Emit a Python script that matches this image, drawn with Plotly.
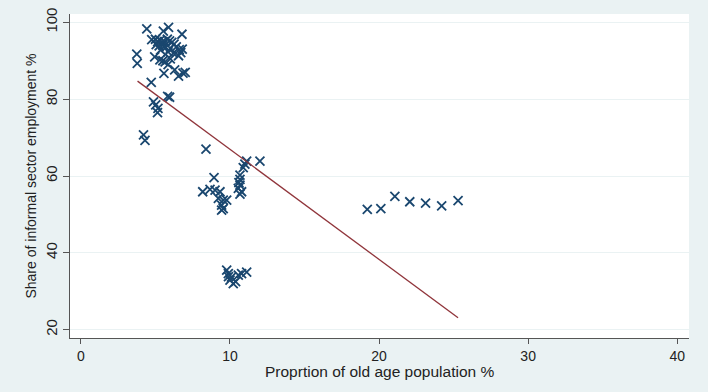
import plotly.graph_objects as go

# Scatter data: proportion of old age population (%) vs share of informal employment (%)
old_age = [
    4.42, 5.88, 5.53, 6.78, 4.75, 5.00, 5.15, 5.30, 5.45, 5.60, 5.80, 5.95, 6.10, 6.25,
    5.05, 5.25, 5.50, 5.70, 6.00, 6.40, 6.60, 6.80, 5.35, 5.85, 6.20, 6.70, 3.75, 3.78,
    4.95, 6.55, 5.30, 5.50, 5.65, 6.00, 5.85, 6.29, 5.57, 6.55, 6.85, 7.00, 4.72, 5.82,
    5.95, 4.87, 5.02, 5.17, 5.14, 4.20, 4.30,
    8.39, 12.01, 11.12, 11.00, 10.89, 8.93, 10.67, 10.67, 10.60, 10.67, 10.56, 10.78,
    10.67, 8.17, 8.66, 9.00, 9.33, 9.22, 9.55, 9.78, 9.44, 9.44, 9.55,
    9.78, 9.89, 10.00, 10.22, 10.38, 10.56, 10.78, 11.12, 10.10, 9.90,
    19.21, 20.12, 21.06, 22.06, 23.12, 24.20, 25.30,
]
informal = [
    98.3, 98.7, 97.7, 96.9, 95.5, 95.6, 95.0, 95.3, 94.9, 95.0, 95.6, 95.2, 94.8, 94.3,
    94.2, 93.9, 94.0, 93.5, 93.2, 93.6, 92.9, 93.0, 92.8, 92.3, 92.0, 92.1, 91.7, 89.3,
    91.0, 91.3, 90.2, 90.0, 89.7, 90.5, 89.0, 87.6, 86.7, 86.0, 86.8, 87.0, 84.4, 80.7,
    80.5, 79.3, 78.5, 77.6, 76.5, 70.7, 69.3,
    67.0, 63.9, 63.9, 63.1, 62.2, 59.6, 60.2, 59.1, 58.3, 57.6, 56.8, 55.9,
    55.3, 55.9, 56.5, 56.3, 55.9, 54.2, 53.7, 53.7, 52.4, 51.1, 51.5,
    35.5, 34.6, 32.9, 32.0, 32.5, 34.2, 34.6, 35.0, 33.7, 33.8,
    51.3, 51.5, 54.7, 53.3, 52.95, 52.2, 53.6,
]

# Linear fit line (endpoints)
fit_x = [3.8, 25.3]
fit_y = [84.7, 23.1]

x_ticks = [0, 10, 20, 30, 40]
y_ticks = [20, 40, 60, 80, 100]

x_title = "Proprtion of old age population %"
y_title = "Share of informal sector employment %"

BG = "#EAF2F3"
NAVY = "#1a476f"
MAROON = "#90353b"
FONT = "Liberation Sans, Arial, sans-serif"

fig = go.Figure()
fig.add_trace(go.Scatter(
    x=old_age, y=informal, mode="markers",
    marker=dict(symbol="x-thin-open", size=9, color=NAVY,
                line=dict(color=NAVY, width=1.8)),
    showlegend=False, hoverinfo="skip",
))
fig.add_trace(go.Scatter(
    x=fit_x, y=fit_y, mode="lines",
    line=dict(color=MAROON, width=1.3),
    showlegend=False, hoverinfo="skip",
))

fig.update_layout(
    width=708, height=392,
    margin=dict(l=70, r=19, t=14, b=54),
    paper_bgcolor=BG, plot_bgcolor="white",
    font=dict(family=FONT, color="#222222", size=13),
    xaxis=dict(
        range=[-0.73, 40.79], tickvals=x_ticks, ticks="outside", ticklen=5,
        tickcolor="#555555", showgrid=False, zeroline=False, automargin=False,
        showline=True, linecolor="#555555", linewidth=1.2,
        tickfont=dict(size=14),
    ),
    yaxis=dict(
        range=[17.83, 102.17], tickvals=y_ticks, ticks="outside", ticklen=6,
        tickcolor="#555555", tickangle=-90, showgrid=True, gridcolor=BG, gridwidth=1,
        zeroline=False, showline=True, linecolor="#555555", linewidth=1.2, automargin=False,
        tickfont=dict(size=15), title=dict(text=y_title, font=dict(size=14), standoff=3),
    ),
    annotations=[dict(
        text=x_title, xref="paper", yref="paper", x=0.5, y=0,
        xanchor="center", yanchor="middle", yshift=-33, showarrow=False,
        borderpad=0,
        font=dict(size=15.5, family=FONT, color="#222222"),
    )],
)

fig.write_html(
    "out.html",
    config={"displayModeBar": False},
    post_script="document.body.style.margin='0';document.body.style.background='%s';" % BG,
)
